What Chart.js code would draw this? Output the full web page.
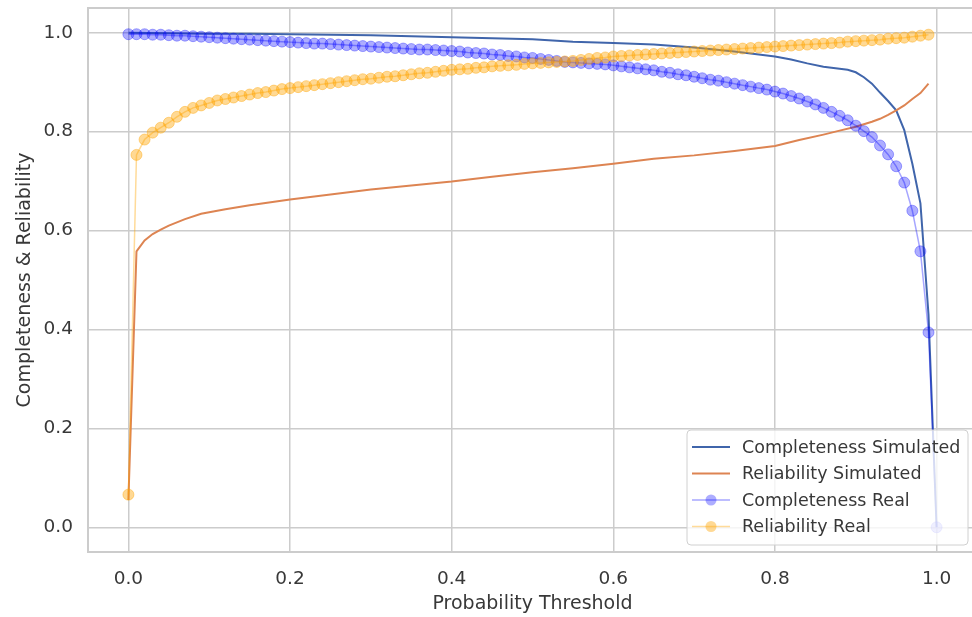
<!DOCTYPE html>
<html>
<head>
<meta charset="utf-8">
<script src="https://cdn.jsdelivr.net/npm/chart.js@4"></script>
<style>
  html, body { margin: 0; padding: 0; background: #fff; overflow: hidden; }
  #chart { display: block; }
</style>
</head>
<body>
<canvas id="chart" width="985" height="617"></canvas>
<script>
// thresholds used for the "real" curves (0.00 .. 1.00)
var realThreshold = [
  0.00,0.01,0.02,0.03,0.04,0.05,0.06,0.07,0.08,0.09,
  0.10,0.11,0.12,0.13,0.14,0.15,0.16,0.17,0.18,0.19,
  0.20,0.21,0.22,0.23,0.24,0.25,0.26,0.27,0.28,0.29,
  0.30,0.31,0.32,0.33,0.34,0.35,0.36,0.37,0.38,0.39,
  0.40,0.41,0.42,0.43,0.44,0.45,0.46,0.47,0.48,0.49,
  0.50,0.51,0.52,0.53,0.54,0.55,0.56,0.57,0.58,0.59,
  0.60,0.61,0.62,0.63,0.64,0.65,0.66,0.67,0.68,0.69,
  0.70,0.71,0.72,0.73,0.74,0.75,0.76,0.77,0.78,0.79,
  0.80,0.81,0.82,0.83,0.84,0.85,0.86,0.87,0.88,0.89,
  0.90,0.91,0.92,0.93,0.94,0.95,0.96,0.97,0.98,0.99,
  1.00
];

var completenessReal = [
  0.997,0.997,0.997,0.996,0.996,0.995,0.994,0.994,0.993,0.992,
  0.991,0.990,0.989,0.988,0.987,0.986,0.985,0.984,0.983,0.982,
  0.981,0.980,0.979,0.978,0.978,0.977,0.976,0.975,0.974,0.973,
  0.972,0.971,0.970,0.969,0.968,0.967,0.966,0.966,0.965,0.964,
  0.963,0.962,0.960,0.959,0.958,0.956,0.955,0.953,0.952,0.950,
  0.949,0.947,0.945,0.943,0.941,0.940,0.939,0.938,0.937,0.936,
  0.934,0.932,0.930,0.928,0.926,0.924,0.921,0.919,0.916,0.914,
  0.911,0.908,0.905,0.903,0.900,0.897,0.894,0.891,0.888,0.885,
  0.881,0.877,0.872,0.867,0.861,0.855,0.848,0.840,0.832,0.823,
  0.812,0.801,0.789,0.772,0.754,0.730,0.697,0.640,0.558,0.394,
  0.000
];

var reliabilityReal = [
  0.066,0.753,0.784,0.798,0.808,0.818,0.830,0.840,0.848,0.853,
  0.858,0.863,0.866,0.869,0.872,0.875,0.878,0.880,0.883,0.886,
  0.888,0.890,0.892,0.894,0.896,0.898,0.900,0.902,0.904,0.906,
  0.907,0.909,0.911,0.912,0.914,0.916,0.918,0.919,0.921,0.923,
  0.925,0.926,0.927,0.929,0.930,0.932,0.933,0.934,0.935,0.937,
  0.938,0.939,0.940,0.941,0.942,0.943,0.945,0.947,0.949,0.950,
  0.952,0.953,0.954,0.955,0.956,0.957,0.958,0.959,0.960,0.961,
  0.962,0.963,0.964,0.965,0.966,0.967,0.968,0.969,0.970,0.971,
  0.972,0.973,0.974,0.975,0.976,0.977,0.978,0.979,0.980,0.982,
  0.983,0.984,0.985,0.986,0.988,0.989,0.990,0.992,0.994,0.996
];

// simulated curves
var simThresholdC = [0,0.05,0.1,0.15,0.2,0.25,0.3,0.35,0.4,0.45,0.5,0.53,0.55,0.6,0.65,0.7,0.75,0.8,
  0.82,0.84,0.86,0.88,0.89,0.9,0.91,0.92,0.93,0.94,0.95,0.96,0.97,0.98,0.99,1.0];
var completenessSim = [1.0,0.999,0.998,0.998,0.997,0.996,0.995,0.993,0.991,0.989,0.987,0.984,0.982,0.979,0.976,0.970,0.962,0.952,
  0.946,0.938,0.931,0.927,0.925,0.920,0.910,0.897,0.879,0.862,0.843,0.803,0.735,0.655,0.430,0.0];

var simThresholdR = [0,0.01,0.02,0.03,0.04,0.05,0.07,0.09,0.12,0.15,0.2,0.25,0.3,0.35,0.4,0.45,0.5,0.55,0.6,0.65,0.7,0.75,0.8,
  0.83,0.86,0.88,0.9,0.92,0.93,0.94,0.95,0.96,0.97,0.98,0.99];
var reliabilitySim = [0.055,0.558,0.580,0.593,0.602,0.610,0.623,0.634,0.643,0.651,0.663,0.673,0.683,0.691,0.699,0.709,0.718,0.726,0.735,0.745,0.752,0.761,0.771,
  0.783,0.794,0.802,0.810,0.820,0.826,0.834,0.843,0.853,0.866,0.878,0.897];

var tickValues = [0.0, 0.2, 0.4, 0.6, 0.8, 1.0];

function pairs(xs, ys) {
  return ys.map(function (y, i) { return { x: xs[i], y: y }; });
}

var tickFont = { family: 'DejaVu Sans', size: 18.5 };
var titleFont = { family: 'DejaVu Sans', size: 19 };
var textColor = '#383838';
var gridColor = '#cccccc';

// frame round the plot area (all four spines)
var frame = {
  id: 'frame',
  beforeDatasetsDraw: function (chart) {
    var a = chart.chartArea, ctx = chart.ctx;
    ctx.save();
    ctx.strokeStyle = gridColor;
    ctx.lineWidth = 2;
    ctx.strokeRect(a.left, a.top, a.right - a.left, a.bottom - a.top);
    ctx.restore();
  }
};

// legend box in the lower right corner of the plot
var legendBox = {
  id: 'legendBox',
  afterDraw: function (chart) {
    var a = chart.chartArea, ctx = chart.ctx;
    var w = 281, h = 115;
    var bx = a.right - 9 - w, by = a.bottom - 7 - h;
    ctx.save();
    ctx.beginPath();
    ctx.roundRect(bx, by, w, h, 4);
    ctx.fillStyle = 'rgba(255,255,255,0.8)';
    ctx.fill();
    ctx.strokeStyle = '#d0d0d0';
    ctx.lineWidth = 1;
    ctx.stroke();
    ctx.font = '17.5px "DejaVu Sans"';
    ctx.textBaseline = 'middle';
    chart.data.datasets.forEach(function (ds, i) {
      var ry = by + 17 + i * 26.5;
      ctx.beginPath();
      ctx.moveTo(bx + 5, ry);
      ctx.lineTo(bx + 43, ry);
      ctx.strokeStyle = ds.borderColor;
      ctx.lineWidth = ds.borderWidth;
      ctx.stroke();
      if (ds.pointRadius > 0) {
        ctx.beginPath();
        ctx.arc(bx + 24, ry, ds.pointRadius, 0, Math.PI * 2);
        ctx.fillStyle = ds.pointBackgroundColor;
        ctx.fill();
      }
      ctx.fillStyle = textColor;
      ctx.fillText(ds.label, bx + 55, ry + 1);
    });
    ctx.restore();
  }
};

new Chart(document.getElementById('chart'), {
  type: 'scatter',
  data: {
    datasets: [
      {
        label: 'Completeness Simulated',
        data: pairs(simThresholdC, completenessSim),
        showLine: true,
        borderColor: '#4065ab',
        borderWidth: 2,
        pointRadius: 0,
        order: 4
      },
      {
        label: 'Reliability Simulated',
        data: pairs(simThresholdR, reliabilitySim),
        showLine: true,
        borderColor: '#dd8452',
        borderWidth: 2,
        pointRadius: 0,
        order: 3
      },
      {
        label: 'Completeness Real',
        data: pairs(realThreshold, completenessReal),
        showLine: true,
        borderColor: 'rgba(0,0,255,0.35)',
        borderWidth: 1.5,
        pointRadius: 5.5,
        pointBorderWidth: 1,
        pointBackgroundColor: 'rgba(0,0,255,0.32)',
        pointBorderColor: 'rgba(0,0,255,0.32)',
        order: 2
      },
      {
        label: 'Reliability Real',
        data: pairs(realThreshold, reliabilityReal),
        showLine: true,
        borderColor: 'rgba(255,165,0,0.4)',
        borderWidth: 1.5,
        pointRadius: 5.5,
        pointBorderWidth: 1,
        pointBackgroundColor: 'rgba(255,165,0,0.42)',
        pointBorderColor: 'rgba(255,165,0,0.42)',
        order: 1
      }
    ]
  },
  options: {
    responsive: false,
    animation: false,
    devicePixelRatio: 1,
    layout: { padding: { top: 8, right: 8, left: 0, bottom: 0 } },
    plugins: {
      legend: { display: false },
      tooltip: { enabled: false }
    },
    scales: {
      x: {
        type: 'linear',
        min: -0.05,
        max: 1.05,
        afterBuildTicks: function (s) { s.ticks = tickValues.map(function (v) { return { value: v }; }); },
        afterFit: function (s) { s.height = 65; s.paddingLeft = 0; s.paddingRight = 0; },
        border: { display: false },
        grid: { color: gridColor, lineWidth: 1.5, drawTicks: false },
        ticks: {
          padding: 16, color: textColor, font: tickFont,
          callback: function (v) { return v.toFixed(1); }
        },
        title: {
          display: true, text: 'Probability Threshold', color: textColor,
          font: titleFont,
          padding: { top: 0, bottom: 1.6 }
        }
      },
      y: {
        type: 'linear',
        min: -0.05,
        max: 1.05,
        afterBuildTicks: function (s) { s.ticks = tickValues.map(function (v) { return { value: v }; }); },
        afterFit: function (s) { s.width = 88; s.paddingTop = 0; s.paddingBottom = 0; },
        border: { display: false },
        grid: { color: gridColor, lineWidth: 1.5, drawTicks: false },
        ticks: {
          padding: 15, color: textColor, font: tickFont,
          callback: function (v) { return v.toFixed(1); }
        },
        title: {
          display: true, text: 'Completeness & Reliability', color: textColor,
          font: titleFont,
          padding: { top: 13.6, bottom: 0 }
        }
      }
    }
  },
  plugins: [frame, legendBox]
});
</script>
</body>
</html>
